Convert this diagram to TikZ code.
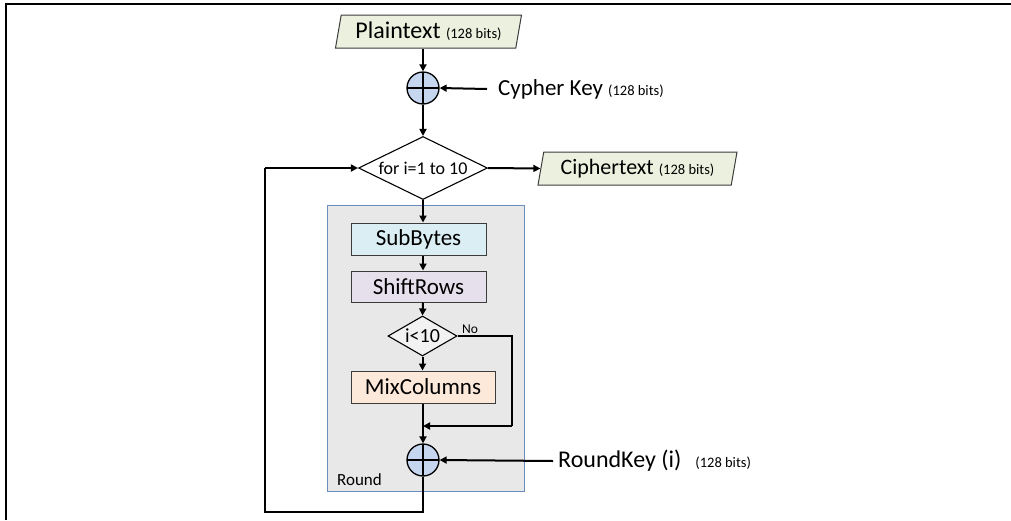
\documentclass[tikz,border=0pt]{standalone}
\usepackage{fontspec}
\setmainfont{Carlito}
\usetikzlibrary{shapes.geometric,arrows.meta}
\definecolor{iofill}{RGB}{236,240,222}
\definecolor{xorfill}{RGB}{197,214,238}
\definecolor{roundfill}{RGB}{232,232,232}
\definecolor{roundline}{RGB}{108,142,191}
\definecolor{subfill}{RGB}{219,238,244}
\definecolor{shiftfill}{RGB}{229,224,236}
\definecolor{mixfill}{RGB}{253,233,217}
\definecolor{decfill}{RGB}{242,242,242}
\definecolor{boxline}{RGB}{60,60,60}
\newcommand{\smallbits}[1]{{\fontsize{14.5}{17}\selectfont #1}}
\begin{document}
\begin{tikzpicture}[x=1pt,y=-1pt,
  arr/.style={line width=2pt,-{Triangle[length=7pt,width=7pt]}},
  ln/.style={line width=2pt},
  iobox/.style={trapezium,trapezium left angle=73,trapezium right angle=107,
    trapezium stretches body,draw=boxline,line width=1pt,fill=iofill,
    minimum height=33pt,inner sep=0pt},
  procbox/.style={rectangle,draw=boxline,line width=1pt,minimum height=32pt,
    inner sep=0pt,font=\fontsize{23}{27}\selectfont},
  decbox/.style={diamond,draw=black,line width=1.1pt,inner sep=0pt},
  xorop/.style={circle,draw=black,line width=1.3pt,fill=xorfill,minimum size=32pt,inner sep=0pt,
    path picture={\draw[line width=1.3pt] (path picture bounding box.north) -- (path picture bounding box.south)
      (path picture bounding box.west) -- (path picture bounding box.east);}},
  lbl/.style={inner sep=0pt,anchor=west}]
\useasboundingbox (0,0) rectangle (1011,520);
% frame
\draw[line width=2pt] (6,520) -- (6,4.3) -- (1011,4.3);
% round container
\node[rectangle,draw=roundline,line width=1pt,fill=roundfill,minimum width=197pt,minimum height=286pt,inner sep=0pt] (round) at (425.5,348) {};
\node[lbl,font=\fontsize{17}{20}\selectfont] (roundlbl) at (337,480) {Round};
% nodes
\node[iobox,minimum width=186pt] (plain) at (428.5,31.5) {\fontsize{24}{28}\selectfont Plaintext \smallbits{(128 bits)}};
\node[xorop] (x1) at (423,88) {};
\node[lbl,font=\fontsize{23}{27}\selectfont] (ck) at (498,89) {Cypher Key \smallbits{(128 bits)}};
\node[decbox,fill=white,aspect=2.3,minimum width=129pt,minimum height=63pt,font=\fontsize{18}{21}\selectfont] (for) at (423,168) {for i=1 to 10};
\node[iobox,minimum width=199pt] (cipher) at (637.5,168.5) {\fontsize{22}{26}\selectfont Ciphertext \smallbits{(128 bits)}};
\node[procbox,fill=subfill,minimum width=135pt] (sub) at (418.5,239) {SubBytes};
\node[procbox,fill=shiftfill,minimum width=135pt,minimum height=31pt] (shift) at (418.5,286.5) {ShiftRows};
\node[decbox,fill=decfill,aspect=1.9,minimum width=69pt,minimum height=40pt,font=\fontsize{20}{24}\selectfont] (i10) at (422.5,336) {i<10};
\node[inner sep=0pt,anchor=west,font=\fontsize{13.5}{16}\selectfont] (no) at (462,329) {No};
\node[procbox,fill=mixfill,minimum width=144pt] (mix) at (423,387) {MixColumns};
\node[xorop] (x2) at (423,460) {};
\node[lbl,font=\fontsize{24}{28}\selectfont] (rk) at (558,461) {RoundKey (i)\hspace{14pt}\smallbits{(128 bits)}};
\coordinate (nocorner) at (512,336);
\coordinate (merge) at (423,426);
\coordinate (loopbr) at (423,512);
\coordinate (loopbl) at (265,512);
\coordinate (looptl) at (265,168);
% connectors
\draw[arr] (plain.south -| x1) -- (x1.north);
\draw[arr] ([xshift=-11pt]ck.west) -- (x1.east);
\draw[arr] (x1.south) -- (for.north);
\draw[arr] (for.east) -- (cipher.west);
\draw[arr] (for.south) -- (sub.north -| for.south);
\draw[arr] (sub.south -| x1) -- (shift.north -| x1);
\draw[arr] (shift.south -| x1) -- (i10.north);
\draw[arr] (i10.south) -- (mix.north -| i10.south);
\draw[arr] (mix.south) -- (x2.north);
\draw[ln] (i10.east) -- (nocorner) -- (nocorner |- merge);
\draw[arr] (nocorner |- merge) -- (merge);
\draw[arr] ([xshift=-5pt]rk.west) -- (x2.east);
\draw[ln] (x2.south) -- (loopbr) -- (loopbl) -- (looptl);
\draw[arr] (looptl) -- (for.west);
\end{tikzpicture}
\end{document}
